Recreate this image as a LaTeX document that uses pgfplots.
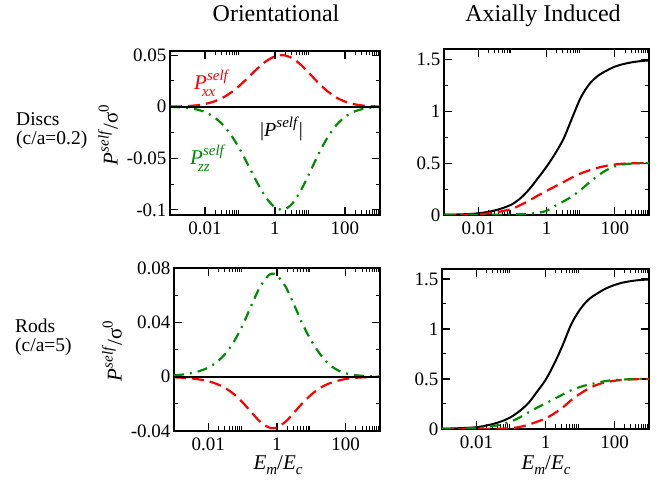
\documentclass[border=0pt]{standalone}
\usepackage{fontspec}
\setmainfont{Liberation Serif}
\usepackage{pgfplots}
\usepackage{pgfplotstable}
\pgfplotsset{compat=1.18}
\definecolor{xred}{RGB}{255,0,0}
\definecolor{xgreen}{RGB}{0,140,0}

\pgfplotstableread{
x xx zz
0.001 0.0001 -0.0002
0.001778 0.00025 -0.0005
0.003162 0.00059 -0.00118
0.005623 0.00129 -0.00258
0.01 0.00261 -0.00522
0.01778 0.00492 -0.00984
0.03162 0.00859 -0.01718
0.05623 0.01388 -0.02776
0.1 0.02078 -0.04156
0.1778 0.02884 -0.05768
0.3162 0.03709 -0.07418
0.5623 0.04419 -0.08838
1 0.0488 -0.0976
1.778 0.0499 -0.0998
3.162 0.04689 -0.09378
5.623 0.04029 -0.08058
10 0.03166 -0.06332
17.78 0.02275 -0.0455
31.62 0.01495 -0.0299
56.23 0.00899 -0.01798
100 0.00494 -0.00988
177.8 0.00249 -0.00498
316.2 0.00114 -0.00228
562.3 0.00048 -0.00096
1000 0.00018 -0.00036
}\discOri

\pgfplotstableread{
x xx zz
0.001 -0.00048 0.00095
0.001778 -0.00078 0.00156
0.003162 -0.00128 0.00256
0.005623 -0.00208 0.00416
0.01 -0.00337 0.00674
0.01778 -0.0054 0.01079
0.03162 -0.00849 0.01698
0.05623 -0.01298 0.02596
0.1 -0.01898 0.03796
0.1778 -0.0261 0.0522
0.3162 -0.03292 0.06584
0.5623 -0.03727 0.07453
0.7499 -0.0379 0.0758
1 -0.03736 0.07472
1.778 -0.03315 0.0663
3.162 -0.02639 0.05278
5.623 -0.01926 0.03851
10 -0.01318 0.02636
17.78 -0.0084 0.0168
31.62 -0.0052 0.0095
56.23 -0.0031 0.0050
100 -0.0017 0.0025
177.8 -0.0009 0.0012
316.2 -0.0005 0.0006
562.3 -0.0002 0.0003
1000 -0.0001 0.0001
}\rodOri

\pgfplotstableread{
x b r g
0.001 0.003 0.000 0.000
0.001778 0.004 0.001 0.000
0.003162 0.006 0.002 0.000
0.005623 0.010 0.004 0.000
0.01 0.016 0.008 0.000
0.01778 0.028 0.014 0.001
0.03162 0.045 0.024 0.002
0.05623 0.070 0.040 0.003
0.1 0.105 0.060 0.005
0.1778 0.165 0.098 0.008
0.3162 0.250 0.140 0.013
0.5623 0.355 0.188 0.021
1 0.465 0.232 0.040
1.778 0.590 0.275 0.088
3.162 0.735 0.318 0.132
5.623 0.935 0.362 0.180
10 1.130 0.400 0.242
17.78 1.260 0.430 0.312
31.62 1.340 0.455 0.378
56.23 1.390 0.474 0.432
100 1.430 0.487 0.468
177.8 1.455 0.495 0.488
316.2 1.472 0.498 0.496
562.3 1.483 0.500 0.499
1000 1.490 0.500 0.500
}\discAx

\pgfplotstableread{
x b r g
0.001 0.003 0.000 0.000
0.001778 0.005 0.000 0.001
0.003162 0.008 0.000 0.003
0.005623 0.012 0.000 0.006
0.01 0.018 0.001 0.010
0.01778 0.032 0.001 0.018
0.03162 0.052 0.002 0.030
0.05623 0.080 0.004 0.048
0.1 0.120 0.008 0.075
0.1778 0.180 0.020 0.115
0.3162 0.257 0.042 0.165
0.5623 0.370 0.072 0.212
1 0.490 0.105 0.256
1.778 0.650 0.155 0.300
3.162 0.840 0.215 0.345
5.623 1.050 0.290 0.388
10 1.195 0.352 0.420
17.78 1.295 0.405 0.444
31.62 1.355 0.443 0.462
56.23 1.405 0.468 0.480
100 1.440 0.482 0.490
177.8 1.465 0.492 0.495
316.2 1.480 0.497 0.498
562.3 1.490 0.499 0.500
1000 1.495 0.500 0.500
}\rodAx

\newcommand{\fs}[1]{\fontsize{#1}{#1}\selectfont}
\newcommand{\PS}[1]{\textit{P}\makebox[0pt][l]{\raisebox{9pt}{\fs{15}\textit{self}}}\kern-5pt\raisebox{-7pt}{\fs{15}\textit{#1}}}

\pgfplotsset{
  every axis/.append style={
    scale only axis, anchor=south west,
    xmin=0.001, xmax=1000,
    xtick={0.01,1,100}, xticklabels={0.01,1,100},
    minor xtick={0.02,0.03,0.04,0.05,0.06,0.07,0.08,0.09,2,3,4,5,6,7,8,9,200,300,400,500,600,700,800,900},
    scaled y ticks=false,
    tick align=inside,
    major tick length=8pt, minor tick length=4.5pt,
    major tick style={line width=1.1pt, black},
    minor tick style={line width=1pt, black},
    axis line style={line width=1.2pt},
    tick label style={font=\fs{19}},
    xticklabel style={yshift=-3pt},
  },
  rline/.style={xred, line width=2.2pt, dash pattern=on 12pt off 6pt, smooth},
  gline/.style={xgreen, line width=2.2pt, dash pattern=on 10pt off 6pt on 2pt off 6pt, smooth},
  kline/.style={black, line width=2pt, smooth},
}

\begin{document}
\begin{tikzpicture}
\path[use as bounding box] (0pt,0pt) rectangle (665pt,485pt);

% top left
\begin{semilogxaxis}[at={(170pt,270pt)}, width=210pt, height=164pt,
  ymin=-0.105, ymax=0.054,
  ytick={-0.1,-0.05,0,0.05}, yticklabels={-0.1,-0.05,0,0.05},
  minor ytick={-0.075,-0.025,0.025}]
\addplot[rline] table[x=x,y=xx]{\discOri};
\addplot[gline] table[x=x,y=zz]{\discOri};
\addplot[black, line width=2pt] coordinates {(0.001,0) (1000,0)};
\end{semilogxaxis}

% top right
\begin{semilogxaxis}[at={(444pt,270pt)}, width=205pt, height=166pt,
  ymin=0, ymax=1.6,
  ytick={0,0.5,1,1.5}, yticklabels={0,0.5,1,1.5},
  minor ytick={0.25,0.75,1.25}]
\addplot[kline] table[x=x,y=b]{\discAx};
\addplot[rline] table[x=x,y=r]{\discAx};
\addplot[gline] table[x=x,y=g]{\discAx};
\end{semilogxaxis}

% bottom left
\begin{semilogxaxis}[at={(174pt,54pt)}, width=206pt, height=163pt,
  ymin=-0.04, ymax=0.08,
  ytick={-0.04,0,0.04,0.08}, yticklabels={-0.04,0,0.04,0.08},
  minor ytick={-0.02,0.02,0.06}]
\addplot[rline] table[x=x,y=xx]{\rodOri};
\addplot[gline] table[x=x,y=zz]{\rodOri};
\addplot[black, line width=2pt] coordinates {(0.001,0) (1000,0)};
\end{semilogxaxis}

% bottom right
\begin{semilogxaxis}[at={(442pt,56pt)}, width=207pt, height=160pt,
  ymin=0, ymax=1.6,
  ytick={0,0.5,1,1.5}, yticklabels={0,0.5,1,1.5},
  minor ytick={0.25,0.75,1.25}]
\addplot[kline] table[x=x,y=b]{\rodAx};
\addplot[rline] table[x=x,y=r]{\rodAx};
\addplot[gline] table[x=x,y=g]{\rodAx};
\end{semilogxaxis}

% titles
\node[anchor=base, font=\fs{24}] at (276pt,463pt) {Orientational};
\node[anchor=base, font=\fs{24}] at (543pt,463pt) {Axially Induced};

% row labels
\node[anchor=base west, font=\fs{19.5}, inner sep=0pt] at (16pt,359pt) {Discs};
\node[anchor=base west, font=\fs{19.5}, inner sep=0pt] at (16pt,340.5pt) {(c/a=0.2)};
\node[anchor=base west, font=\fs{19.5}, inner sep=0pt] at (15pt,152pt) {Rods};
\node[anchor=base west, font=\fs{19.5}, inner sep=0pt] at (15pt,133pt) {(c/a=5)};

% y labels
\node[rotate=90, font=\fs{21}, inner sep=0pt] at (108pt,350pt) {\textit{P}\raisebox{9pt}{\fs{15}\textit{self}}/σ\raisebox{9pt}{\fs{15}0}};
\node[rotate=90, font=\fs{21}, inner sep=0pt] at (112pt,134pt) {\textit{P}\raisebox{9pt}{\fs{15}\textit{self}}/σ\raisebox{9pt}{\fs{15}0}};

% x labels
\node[anchor=base, font=\fs{21}, inner sep=0pt] at (278pt,15pt) {\textit{E}\raisebox{-5pt}{\fs{15}\textit{m}}/\textit{E}\raisebox{-5pt}{\fs{15}\textit{c}}};
\node[anchor=base, font=\fs{21}, inner sep=0pt] at (546pt,15pt) {\textit{E}\raisebox{-5pt}{\fs{15}\textit{m}}/\textit{E}\raisebox{-5pt}{\fs{15}\textit{c}}};

% annotations
\node[anchor=base west, font=\fs{21}, text=xred, inner sep=0pt] at (194pt,395pt) {\PS{xx}};
\node[anchor=base west, font=\fs{20}, inner sep=0pt] at (260pt,348pt) {|\textit{P}\raisebox{9pt}{\fs{15}\textit{self}}|};
\node[anchor=base west, font=\fs{21}, text=xgreen, inner sep=0pt] at (190pt,320pt) {\PS{zz}};
\end{tikzpicture}
\end{document}
